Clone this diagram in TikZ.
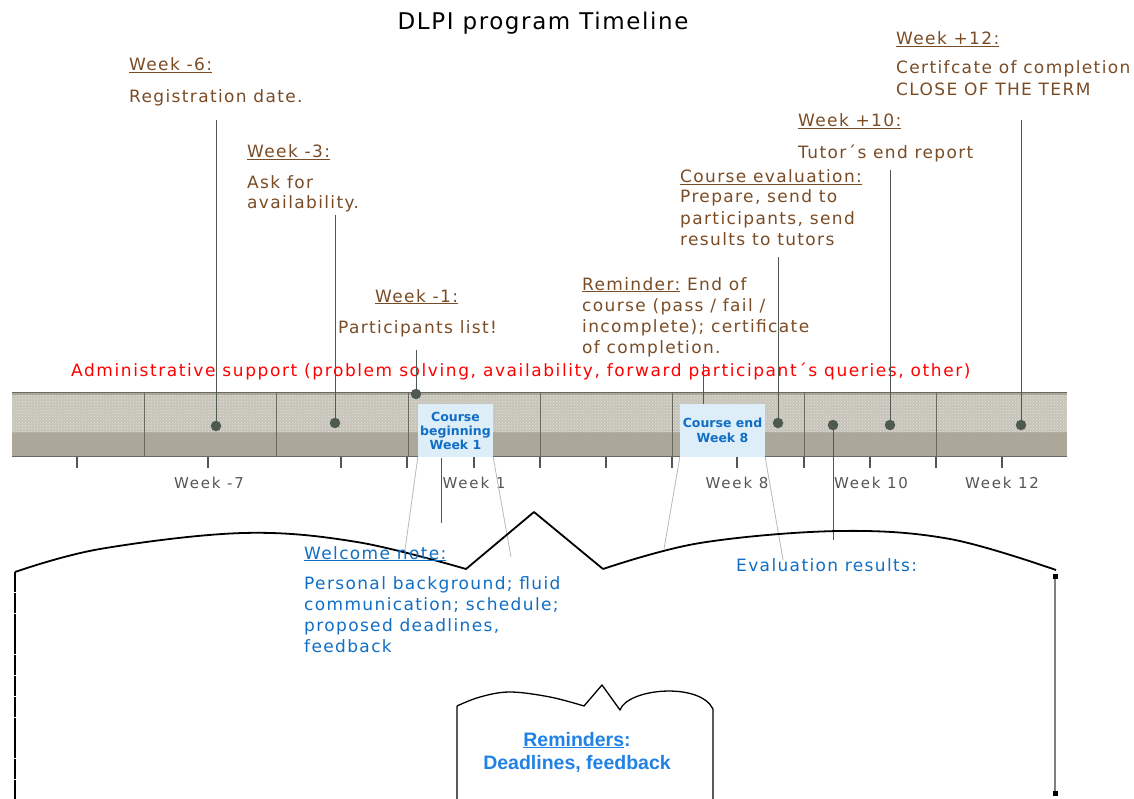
\documentclass[tikz,border=0pt]{standalone}
\usepackage{fontspec}
\setmainfont{DejaVu Sans}
\newfontfamily\spaced[LetterSpace=8]{DejaVu Sans}
\newfontfamily\redfont[LetterSpace=9.3]{DejaVu Sans}
\newfontfamily\wkfont[LetterSpace=12]{DejaVu Sans}
\newfontfamily\ttlfont[LetterSpace=7]{DejaVu Sans}
\newfontfamily\arialfont{Liberation Sans}
\usetikzlibrary{patterns}
\definecolor{brownt}{RGB}{122,76,38}
\definecolor{bluet}{RGB}{16,110,198}
\definecolor{blueR}{RGB}{32,130,230}
\definecolor{grayt}{RGB}{85,85,85}
\definecolor{barbase}{RGB}{172,168,153}
\definecolor{bartop}{RGB}{198,195,185}
\definecolor{bardot}{RGB}{228,226,220}
\definecolor{divc}{RGB}{105,105,98}
\definecolor{dotc}{RGB}{78,90,80}
\definecolor{boxfill}{RGB}{221,238,248}
\definecolor{pointer}{RGB}{185,185,185}
\tikzset{
  brown/.style={font=\spaced\fontsize{17}{21}\selectfont, text=brownt, anchor=base west, inner sep=0pt},
  blue/.style={font=\spaced\fontsize{17}{21}\selectfont, text=bluet, anchor=base west, inner sep=0pt},
  wk/.style={font=\wkfont\fontsize{15}{17}\selectfont, text=grayt, anchor=base, inner sep=0pt},
  evdot/.style={circle, fill=dotc, minimum size=10.5pt, inner sep=0pt},
  conn/.style={draw=dotc, line width=1pt},
  cbox/.style={fill=boxfill, text=bluet, font=\fontsize{12.5}{14}\selectfont\bfseries, align=center, inner sep=0pt},
  ptr/.style={draw=pointer, line width=0.8pt},
  bubble/.style={draw=black, line width=1.8pt, line join=round},
}
\begin{document}
\begin{tikzpicture}[x=1pt,y=-1pt]
\useasboundingbox (0,0) rectangle (1134,799);
% title
\node[font=\ttlfont\fontsize{23}{26}\selectfont, anchor=base, inner sep=0pt] (title) at (543,30) {DLPI program Timeline};
% bar
\fill[barbase] (12,392) rectangle (1067,457);
\fill[bartop] (12,395) rectangle (1067,432);
\fill[pattern=crosshatch dots, pattern color=bardot] (12,395) rectangle (1067,432);
\foreach \x in {144,276,408,540,672,804,936} \draw[divc, line width=1pt] (\x,392) -- (\x,457);
\draw[divc, line width=1pt] (12,392.5) -- (1067,392.5);
\draw[divc, line width=1pt] (12,456.5) -- (1067,456.5);
\foreach \x in {77,208,341,407,474,540,606,672,737,804,870,936,1002} \draw[grayt, line width=1.6pt] (\x,457) -- (\x,468);
% week labels
\node[wk] (wm7) at (209,488) {Week -7};
\node[wk] (w1) at (474,488) {Week 1};
\node[wk] (w8) at (737,488) {Week 8};
\node[wk] (w10) at (871,488) {Week 10};
\node[wk] (w12) at (1002,488) {Week 12};
% course boxes
\node[cbox, minimum width=75pt, minimum height=53pt] (cb) at (455.5,430.5) {Course\\[0pt]beginning\\[0pt]Week 1};
\node[cbox, minimum width=85pt, minimum height=53pt] (ce) at (722.5,430.5) {Course end\\[0.5pt]Week 8};
% dots
\node[evdot] (d1) at (216,426) {};
\node[evdot] (d2) at (335,423) {};
\node[evdot] (d3) at (416,394) {};
\node[evdot] (d4) at (778,423) {};
\node[evdot] (d5) at (833,425) {};
\node[evdot] (d6) at (890,425) {};
\node[evdot] (d7) at (1021,425) {};
% texts
\node[brown] (t1h) at (129,71) {\underline{Week -6:}};
\node[brown] (t1) at (129,103) {Registration date.};
\node[brown] (t2h) at (247,158) {\underline{Week -3:}};
\node[brown, align=left, font=\spaced\fontsize{17}{20}\selectfont] (t2) at (247,209) {Ask for\\availability.};
\node[brown] (t3h) at (375,302) {\underline{Week -1:}};
\node[brown] (t3) at (338,333) {Participants list!};
\node[brown, align=left, font=\spaced\fontsize{17}{21}\selectfont] (t4) at (582,353) {\underline{Reminder:} End of\\course (pass / fail /\\incomplete); certificate\\of completion.};
\node[brown] (t5h) at (680,183) {\underline{Course evaluation:}};
\node[brown, align=left, font=\spaced\fontsize{17}{21.5}\selectfont] (t5) at (680,246) {Prepare, send to\\participants, send\\results to tutors};
\node[brown] (t6h) at (798,127) {\underline{Week +10:}};
\node[brown] (t6) at (798,159) {Tutor´s end report};
\node[brown] (t7h) at (896,45) {\underline{Week +12:}};
\node[brown, align=left, font=\spaced\fontsize{17}{22}\selectfont] (t7) at (896,96) {Certifcate of completion\\CLOSE OF THE TERM};
\node[font=\redfont\fontsize{17}{21}\selectfont, text=red, anchor=base west, inner sep=0pt] (adm) at (71,376) {Administrative support (problem solving, availability, forward participant´s queries, other)};
% connector free ends
\coordinate (c1) at (216,120);
\coordinate (c2) at (335,215);
\coordinate (c3) at (416,350);
\coordinate (c4) at (703,364);
\coordinate (c5) at (778,257);
\coordinate (c6) at (890,170);
\coordinate (c7) at (1021,120);
\coordinate (c8) at (833,540);
\coordinate (w1a) at (441,458);
\coordinate (w1b) at (441,523);
\draw[conn] (c1) -- (d1);
\draw[conn] (c2) -- (d2);
\draw[conn] (c3) -- (d3);
\draw[conn] (c4) -- (ce.north -| c4);
\draw[conn] (c5) -- (d4);
\draw[conn] (c6) -- (d6);
\draw[conn] (c7) -- (d7);
\draw[conn] (d5) -- (c8);
\draw[conn] (w1a) -- (w1b);
% pointer lines
\coordinate (p1) at (405,550);
\coordinate (p2) at (511,557);
\coordinate (p3) at (664,549);
\coordinate (p4) at (783,560);
\draw[ptr] (cb.south west) -- (p1);
\draw[ptr] (cb.south east) -- (p2);
\draw[ptr] (ce.south west) -- (p3);
\draw[ptr] (ce.south east) -- (p4);
% big bubble
\draw[bubble] plot[smooth, tension=0.6] coordinates {(15,572) (100,549) (243,533) (357,542) (466,569)}
  -- (534,512) -- (603,569)
  plot[smooth, tension=0.6] coordinates {(603,569) (700,543) (839,531) (950,539) (1056,570)};
\draw[black, line width=2.8pt, dash pattern=on 20pt off 0.8pt] (15,572) -- (15,799);
\draw[gray, line width=1.5pt] (1055,574) -- (1055,795);
\fill[black] (1052.5,574) rectangle (1057.5,579);
\fill[black] (1052.5,791) rectangle (1057.5,796);
% small bubble
\draw[black, line width=1.3pt, line join=round] (457,799) -- (457,706)
  plot[smooth, tension=0.6] coordinates {(457,706) (480,697) (510,692) (550,697) (584,706)}
  -- (602,685) -- (620,710)
  .. controls (628,688) and (700,682) .. (713,709) -- (713,799);
% blue texts
\node[blue] (wn) at (304,559) {\underline{Welcome note:}};
\node[blue, align=left, font=\spaced\fontsize{17}{20.7}\selectfont] (wb) at (304,652) {Personal background; fluid\\communication; schedule;\\proposed deadlines,\\feedback};
\node[blue] (ev) at (736,571) {Evaluation results:};
\node[font=\arialfont\fontsize{19.5}{23}\selectfont\bfseries, text=blueR, align=center, anchor=base, inner sep=0pt] (rem) at (577,769) {\underline{Reminders}:\\Deadlines, feedback};
\end{tikzpicture}
\end{document}
